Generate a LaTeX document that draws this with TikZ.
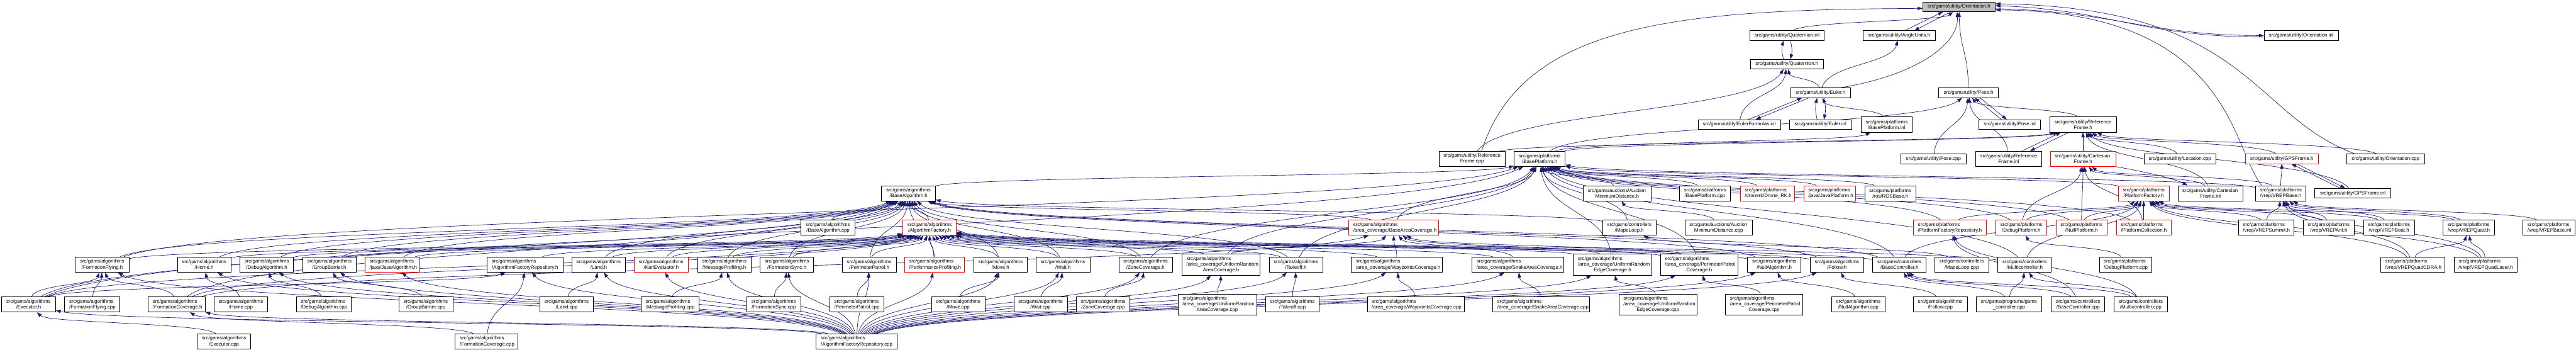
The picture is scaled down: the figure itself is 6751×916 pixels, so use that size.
\documentclass[tikz,border=0pt]{standalone}
\usepackage{fontspec}
\setmainfont{Liberation Sans}
\usetikzlibrary{arrows.meta,calc}
\definecolor{edgec}{RGB}{25,25,112}
\definecolor{nodegray}{RGB}{191,191,191}
\pgfdeclarelayer{edgelayer}
\pgfsetlayers{edgelayer,main}
\newcommand\Lft[1]{\leavevmode\hbox to \hsize{#1\hfil}}
\newcommand\Edge[2]{\draw[ed] let \p1=(#1), \p2=(#2) in (#1) .. controls ({0.9*\x1+0.1*\x2},{0.5*\y1+0.5*\y2}) and ({0.1*\x1+0.9*\x2},{0.5*\y1+0.5*\y2}) .. (#2);}
\tikzset{
  n/.style={draw=black, fill=white, line width=1.2pt, align=center, inner xsep=12pt, inner ysep=0pt,
            font=\fontsize{13}{15}\selectfont, text width=#1},
  l1/.style={minimum height=25pt},
  l2/.style={minimum height=40pt},
  l3/.style={minimum height=55pt},
  rd/.style={draw=red},
  ed/.style={draw=edgec, line width=1.1pt, -{Triangle[length=13pt,width=9pt]}}
}
\begin{document}
\begin{tikzpicture}[x=1pt,y=1pt]
\useasboundingbox (0,0) rectangle (6751,-916);
% Row A
\node[n=166pt,l1,fill=nodegray] (orienth) at (5134,-18) {src/gams/utility/Orientation.h};
% Row B
\node[n=170pt,l1] (quatinl) at (4683,-93) {src/gams/utility/Quaternion.inl};
\node[n=165pt,l1] (angleh) at (4977,-93) {src/gams/utility/AngleUnits.h};
\node[n=171pt,l1] (orientinl) at (6031,-93) {src/gams/utility/Orientation.inl};
% Row C
\node[n=166pt,l1] (quath) at (4683,-168) {src/gams/utility/Quaternion.h};
% Row D
\node[n=132pt,l1] (eulerh) at (4771,-243) {src/gams/utility/Euler.h};
\node[n=132pt,l1] (poseh) at (5159,-243) {src/gams/utility/Pose.h};
% Row E
\node[n=192pt,l1] (eulerfinl) at (4558,-326) {src/gams/utility/EulerFormulas.inl};
\node[n=138pt,l1] (eulerinl) at (4771,-326) {src/gams/utility/Euler.inl};
\node[n=109pt,l2] (bplatinl) at (4944,-326) {\Lft{src/gams/platforms}\\/BasePlatform.inl};
\node[n=138pt,l1] (poseinl) at (5267,-326) {src/gams/utility/Pose.inl};
\node[n=150pt,l2] (rfh) at (5459,-326) {\Lft{src/gams/utility/Reference}\\Frame.h};
% Row F
\node[n=150pt,l2] (rfcpp) at (3858,-416) {\Lft{src/gams/utility/Reference}\\Frame.cpp};
\node[n=110pt,l2] (bplath) at (4035,-416) {\Lft{src/gams/platforms}\\/BasePlatform.h};
\node[n=146pt,l1] (posecpp) at (5067,-416) {src/gams/utility/Pose.cpp};
\node[n=149pt,l2] (rfinl) at (5264,-416) {\Lft{src/gams/utility/Reference}\\Frame.inl};
\node[n=148pt,l2,rd] (cfh) at (5459,-416) {\Lft{src/gams/utility/Cartesian}\\Frame.h};
\node[n=165pt,l1] (loccpp) at (5713,-416) {src/gams/utility/Location.cpp};
\node[n=167pt,l1,rd] (gpsh) at (5980,-416) {src/gams/utility/GPSFrame.h};
\node[n=180pt,l1] (orientcpp) at (6252,-416) {src/gams/utility/Orientation.cpp};
% Row G
\node[n=117pt,l2] (balgh) at (2381,-506) {\Lft{src/gams/algorithms}\\/BaseAlgorithm.h};
\node[n=153pt,l2] (aucth) at (4238,-506) {\Lft{src/gams/auctions/Auction}\\MinimumDistance.h};
\node[n=109pt,l2] (bplatcpp) at (4468,-506) {\Lft{src/gams/platforms}\\/BasePlatform.cpp};
\node[n=119pt,l2,rd] (droneh) at (4632,-506) {\Lft{src/gams/platforms}\\/dronerk/Drone\_RK.h};
\node[n=112pt,l2,rd] (javaplath) at (4795,-506) {\Lft{src/gams/platforms}\\/java/JavaPlatform.h};
\node[n=110pt,l2] (rosh) at (4954,-506) {\Lft{src/gams/platforms}\\/ros/ROSBase.h};
\node[n=110pt,l2,rd] (pfacth) at (5618,-506) {\Lft{src/gams/platforms}\\/PlatformFactory.h};
\node[n=147pt,l2] (cfinl) at (5793,-506) {\Lft{src/gams/utility/Cartesian}\\Frame.inl};
\node[n=109pt,l2] (vrepbaseh) at (5977,-506) {\Lft{src/gams/platforms}\\/vrep/VREPBase.h};
\node[n=175pt,l1] (gpsinl) at (6166,-506) {src/gams/utility/GPSFrame.inl};
% Row H
\node[n=117pt,l2] (balgcpp) at (2170,-596) {\Lft{src/gams/algorithms}\\/BaseAlgorithm.cpp};
\node[n=116pt,l2,rd] (afacth) at (2436,-596) {\Lft{src/gams/algorithms}\\/AlgorithmFactory.h};
\node[n=211pt,l2,rd] (bach) at (3652,-596) {\Lft{src/gams/algorithms}\\/area\_coverage/BaseAreaCoverage.h};
\node[n=116pt,l2] (mapeh) at (4270,-596) {\Lft{src/gams/controllers}\\/MapeLoop.h};
\node[n=153pt,l2] (auctcpp) at (4504,-596) {\Lft{src/gams/auctions/Auction}\\MinimumDistance.cpp};
\node[n=167pt,l2,rd] (pfrepoh) at (5110,-596) {\Lft{src/gams/platforms}\\/PlatformFactoryRepository.h};
\node[n=109pt,l2,rd] (dplath) at (5297,-596) {\Lft{src/gams/platforms}\\/DebugPlatform.h};
\node[n=110pt,l2,rd] (nplath) at (5455,-596) {\Lft{src/gams/platforms}\\/NullPlatform.h};
\node[n=119pt,l2,rd] (pcollh) at (5618,-596) {\Lft{src/gams/platforms}\\/PlatformCollection.h};
\node[n=122pt,l2] (summith) at (5939,-596) {\Lft{src/gams/platforms}\\/vrep/VREPSummit.h};
\node[n=110pt,l2] (anth) at (6103,-596) {\Lft{src/gams/platforms}\\/vrep/VREPAnt.h};
\node[n=110pt,l2] (boath) at (6261,-596) {\Lft{src/gams/platforms}\\/vrep/VREPBoat.h};
\node[n=111pt,l2] (quadh) at (6470,-596) {\Lft{src/gams/platforms}\\/vrep/VREPQuad.h};
\node[n=112pt,l2] (vrepbaseinl) at (6680,-596) {\Lft{src/gams/platforms}\\/vrep/VREPBase.inl};
% Row I
\node[n=117pt,l2] (ffh) at (268,-693) {\Lft{src/gams/algorithms}\\/FormationFlying.h};
\node[n=116pt,l2] (homeh) at (535,-693) {\Lft{src/gams/algorithms}\\/Home.h};
\node[n=116pt,l2] (dbgh) at (699,-693) {\Lft{src/gams/algorithms}\\/DebugAlgorithm.h};
\node[n=116pt,l2] (gbh) at (863,-693) {\Lft{src/gams/algorithms}\\/GroupBarrier.h};
\node[n=119pt,l2,rd] (javah) at (1028,-693) {\Lft{src/gams/algorithms}\\/java/JavaAlgorithm.h};
\node[n=175pt,l2] (afrepoh) at (1376,-693) {\Lft{src/gams/algorithms}\\/AlgorithmFactoryRepository.h};
\node[n=117pt,l2] (landh) at (1569,-693) {\Lft{src/gams/algorithms}\\/Land.h};
\node[n=117pt,l2,rd] (karlh) at (1733,-693) {\Lft{src/gams/algorithms}\\/KarlEvaluator.h};
\node[n=116pt,l2] (mph) at (1898,-693) {\Lft{src/gams/algorithms}\\/MessageProfiling.h};
\node[n=116pt,l2] (fsh) at (2062,-693) {\Lft{src/gams/algorithms}\\/FormationSync.h};
\node[n=117pt,l2] (pph) at (2278,-693) {\Lft{src/gams/algorithms}\\/PerimeterPatrol.h};
\node[n=133pt,l2,rd] (perfh) at (2449,-693) {\Lft{src/gams/algorithms}\\/PerformanceProfiling.h};
\node[n=116pt,l2] (moveh) at (2622,-693) {\Lft{src/gams/algorithms}\\/Move.h};
\node[n=117pt,l2] (waith) at (2786,-693) {\Lft{src/gams/algorithms}\\/Wait.h};
\node[n=116pt,l2] (zch) at (3002,-693) {\Lft{src/gams/algorithms}\\/ZoneCoverage.h};
\node[n=181pt,l3] (urach) at (3200,-693) {\Lft{src/gams/algorithms}\\\Lft{/area\_coverage/UniformRandom}\\AreaCoverage.h};
\node[n=116pt,l2] (takeoffh) at (3396,-693) {\Lft{src/gams/algorithms}\\/Takeoff.h};
\node[n=215pt,l2] (wpch) at (3661,-693) {\Lft{src/gams/algorithms}\\/area\_coverage/WaypointsCoverage.h};
\node[n=217pt,l2] (snakeh) at (3978,-693) {\Lft{src/gams/algorithms}\\/area\_coverage/SnakeAreaCoverage.h};
\node[n=181pt,l3] (urech) at (4226,-693) {\Lft{src/gams/algorithms}\\\Lft{/area\_coverage/UniformRandom}\\EdgeCoverage.h};
\node[n=179pt,l3] (ppch) at (4453,-693) {\Lft{src/gams/algorithms}\\\Lft{/area\_coverage/PerimeterPatrol}\\Coverage.h};
\node[n=116pt,l2] (nullh) at (4650,-693) {\Lft{src/gams/algorithms}\\/NullAlgorithm.h};
\node[n=116pt,l2] (followh) at (4814,-693) {\Lft{src/gams/algorithms}\\/Follow.h};
\node[n=116pt,l2] (bctrlh) at (4978,-693) {\Lft{src/gams/controllers}\\/BaseController.h};
\node[n=117pt,l2] (mapecpp) at (5141,-693) {\Lft{src/gams/controllers}\\/MapeLoop.cpp};
\node[n=116pt,l2] (mch) at (5306,-693) {\Lft{src/gams/controllers}\\/Multicontroller.h};
\node[n=113pt,l2] (dplatcpp) at (5570,-693) {\Lft{src/gams/platforms}\\/DebugPlatform.cpp};
\node[n=144pt,l2] (cdrah) at (6323,-693) {\Lft{src/gams/platforms}\\/vrep/VREPQuadCDRA.h};
\node[n=141pt,l2] (laserh) at (6514,-693) {\Lft{src/gams/platforms}\\/vrep/VREPQuadLaser.h};
% Row J
\node[n=117pt,l2] (exech) at (75,-797) {\Lft{src/gams/algorithms}\\/Executor.h};
\node[n=121pt,l2] (ffcpp) at (242,-797) {\Lft{src/gams/algorithms}\\/FormationFlying.cpp};
\node[n=125pt,l2] (fch) at (463,-797) {\Lft{src/gams/algorithms}\\/FormationCoverage.h};
\node[n=116pt,l2] (homecpp) at (631,-797) {\Lft{src/gams/algorithms}\\/Home.cpp};
\node[n=119pt,l2] (dbgcpp) at (848,-797) {\Lft{src/gams/algorithms}\\/DebugAlgorithm.cpp};
\node[n=117pt,l2] (gbcpp) at (1116,-797) {\Lft{src/gams/algorithms}\\/GroupBarrier.cpp};
\node[n=117pt,l2] (landcpp) at (1485,-797) {\Lft{src/gams/algorithms}\\/Land.cpp};
\node[n=127pt,l2] (mpcpp) at (1756,-797) {\Lft{src/gams/algorithms}\\/MessageProfiling.cpp};
\node[n=117pt,l2] (fscpp) at (2028,-797) {\Lft{src/gams/algorithms}\\/FormationSync.cpp};
\node[n=117pt,l2] (ppcpp) at (2245,-797) {\Lft{src/gams/algorithms}\\/PerimeterPatrol.cpp};
\node[n=116pt,l2] (movecpp) at (2511,-797) {\Lft{src/gams/algorithms}\\/Move.cpp};
\node[n=116pt,l2] (waitcpp) at (2727,-797) {\Lft{src/gams/algorithms}\\/Wait.cpp};
\node[n=116pt,l2] (zccpp) at (2891,-797) {\Lft{src/gams/algorithms}\\/ZoneCoverage.cpp};
\node[n=182pt,l3] (uraccpp) at (3190,-797) {\Lft{src/gams/algorithms}\\\Lft{/area\_coverage/UniformRandom}\\AreaCoverage.cpp};
\node[n=116pt,l2] (takeoffcpp) at (3387,-797) {\Lft{src/gams/algorithms}\\/Takeoff.cpp};
\node[n=230pt,l2] (wpccpp) at (3710,-797) {\Lft{src/gams/algorithms}\\/area\_coverage/WaypointsCoverage.cpp};
\node[n=230pt,l2] (snakecpp) at (4039,-797) {\Lft{src/gams/algorithms}\\/area\_coverage/SnakeAreaCoverage.cpp};
\node[n=181pt,l3] (ureccpp) at (4345,-797) {\Lft{src/gams/algorithms}\\\Lft{/area\_coverage/UniformRandom}\\EdgeCoverage.cpp};
\node[n=178pt,l3] (ppccpp) at (4623,-797) {\Lft{src/gams/algorithms}\\\Lft{/area\_coverage/PerimeterPatrol}\\Coverage.cpp};
\node[n=116pt,l2] (nullcpp) at (4870,-797) {\Lft{src/gams/algorithms}\\/NullAlgorithm.cpp};
\node[n=117pt,l2] (followcpp) at (5085,-797) {\Lft{src/gams/algorithms}\\/Follow.cpp};
\node[n=147pt,l2] (gccpp) at (5265,-797) {\Lft{src/gams/programs/gams}\\\_controller.cpp};
\node[n=116pt,l2] (bctrlcpp) at (5446,-797) {\Lft{src/gams/controllers}\\/BaseController.cpp};
\node[n=116pt,l2] (mccpp) at (5610,-797) {\Lft{src/gams/controllers}\\/Multicontroller.cpp};
% Row K
\node[n=116pt,l2] (execcpp) at (587,-894) {\Lft{src/gams/algorithms}\\/Executor.cpp};
\node[n=140pt,l2] (fccpp) at (1275,-894) {\Lft{src/gams/algorithms}\\/FormationCoverage.cpp};
\node[n=188pt,l2] (afrepocpp) at (2245,-894) {\Lft{src/gams/algorithms}\\/AlgorithmFactoryRepository.cpp};

\begin{pgfonlayer}{edgelayer}
% generic edges: child/parent
\foreach \ch/\pa in {quatinl/orienth, eulerh/quath, eulerh/angleh, eulerfinl/quath, bplatinl/eulerh,
  poseh/orienth, posecpp/poseh, rfinl/poseh, rfh/poseh, cfh/rfh, gpsh/rfh, gpsinl/rfh, loccpp/rfh,
  orientcpp/rfh, cfinl/rfh, rfcpp/quath, rfcpp/rfh, bplath/bplatinl, bplath/poseh, bplath/rfh,
  vrepbaseh/gpsh, vrepbaseh/cfh, cfinl/cfh,
  bplatcpp/bplath, aucth/bplath, auctcpp/aucth, mapeh/bplath, mapecpp/mapeh, droneh/bplath,
  javaplath/bplath, rosh/bplath, pfacth/bplath, pfrepoh/bplath, pfrepoh/pfacth, dplath/bplath,
  dplath/pfacth, dplath/cfh, nplath/bplath, nplath/pfacth, nplath/cfh, pcollh/bplath, pcollh/pfacth,
  pcollh/cfh, dplatcpp/dplath, vrepbaseh/bplath, summith/vrepbaseh, anth/vrepbaseh, boath/vrepbaseh,
  quadh/vrepbaseh, summith/pfacth, anth/pfacth, boath/pfacth, quadh/pfacth, cdrah/quadh, laserh/quadh,
  cdrah/vrepbaseh, laserh/vrepbaseh, cdrah/pfacth, laserh/pfacth, vrepbaseinl/vrepbaseh,
  bctrlh/bplath, bctrlh/pfacth, bctrlh/balgh, bctrlh/afacth, mch/bplath, mch/pfacth, mch/afacth,
  gccpp/bctrlh, gccpp/mch, bctrlcpp/bctrlh, bctrlcpp/pfrepoh, mccpp/mch, mccpp/bctrlh, mccpp/pfrepoh,
  balgcpp/balgh, afacth/balgh, afrepoh/afacth, afrepocpp/afrepoh, balgh/bplath, bach/balgh, bach/bplath,
  mapeh/balgh, ffh/bplath, exech/bplath, takeoffh/bplath, urech/bplath, ppch/bplath, urach/bplath,
  zch/bplath, exech/ffh, exech/balgh, exech/afacth, exech/afrepoh, fch/ffh, fch/balgh, fch/afacth,
  fch/bach, ffcpp/ffh, homecpp/homeh, dbgcpp/dbgh, gbcpp/gbh, landcpp/landh, mpcpp/mph, fscpp/fsh,
  ppcpp/pph, movecpp/moveh, waitcpp/waith, zccpp/zch, uraccpp/urach, takeoffcpp/takeoffh,
  wpccpp/wpch, snakecpp/snakeh, ureccpp/urech, ppccpp/ppch, nullcpp/nullh, followcpp/followh,
  execcpp/exech, fccpp/fch, fccpp/afrepoh, afrepocpp/exech, afrepocpp/fch}
  {\Edge{\ch}{\pa}}
\foreach \ch in {ffh,homeh,dbgh,gbh,javah,landh,karlh,mph,fsh,pph,perfh,moveh,waith,zch,takeoffh,nullh,followh}
  {\Edge{\ch}{balgh}\Edge{\ch}{afacth}\Edge{afrepocpp}{\ch}}
\foreach \ch in {urach,wpch,snakeh,urech,ppch}
  {\Edge{\ch}{bach}\Edge{\ch}{afacth}\Edge{afrepocpp}{\ch}}
% manual edges (cycles and long routes)
\draw[ed] ([xshift=-9]quath.north) .. controls +(-5,20) and +(-5,-20) .. ([xshift=-9]quatinl.south);
\draw[ed] ([xshift=9]quatinl.south) .. controls +(5,-20) and +(5,20) .. ([xshift=9]quath.north);
\draw[ed] ([xshift=-9]eulerinl.north) .. controls +(-5,25) and +(-5,-25) .. ([xshift=-9]eulerh.south);
\draw[ed] ([xshift=9]eulerh.south) .. controls +(5,-25) and +(5,25) .. ([xshift=9]eulerinl.north);
\draw[ed] ([xshift=24]eulerfinl.north) -- ([xshift=-48]eulerh.south);
\draw[ed] ([xshift=-30]eulerh.south) -- ([xshift=43]eulerfinl.north);
\draw[ed] ([xshift=-22]poseinl.north) -- ([xshift=16]poseh.south);
\draw[ed] ([xshift=30]poseh.south) -- ([xshift=-8]poseinl.north);
\draw[ed] ([xshift=35]rfinl.north) -- ([xshift=-58]rfh.south);
\draw[ed] ([xshift=-37]rfh.south) -- ([xshift=56]rfinl.north);
\draw[ed] ([xshift=-33]gpsinl.north) -- ([xshift=25]gpsh.south);
\draw[ed] ([xshift=40]gpsh.south) -- ([xshift=-20]gpsinl.north);
\draw[ed] (cfh.south east) .. controls +(60,-10) and +(-40,20) .. ([xshift=-60]cfinl.north);
\draw[ed] ([xshift=15]angleh.north) -- ([xshift=-42]orienth.south);
\draw[ed] ([xshift=-22]orienth.south) -- ([xshift=40]angleh.north);
\draw[ed] ([xshift=50]eulerh.north) .. controls (5010,-200) and (5135,-120) .. ([xshift=-5]orienth.south);
\draw[ed] ([yshift=-5]orienth.east) .. controls +(300,-5) and +(-300,0) .. (orientinl.west);
\draw[ed] ([yshift=-4]orientinl.west) .. controls +(-320,0) and +(300,-10) .. ([yshift=3]orienth.east);
\draw[ed] ([xshift=25]rfcpp.north) .. controls (3990,-60) and (4400,-25) .. ([yshift=-4]orienth.west);
\draw[ed] ([xshift=-50]vrepbaseh.north) .. controls (5845,-380) and (5845,-30) .. ([yshift=-8]orienth.east);
\draw[ed] ([xshift=-80]orientcpp.north) .. controls (5896,-300) and (5896,-20) .. ([yshift=8]orienth.east);
\end{pgfonlayer}
\end{tikzpicture}
\end{document}
